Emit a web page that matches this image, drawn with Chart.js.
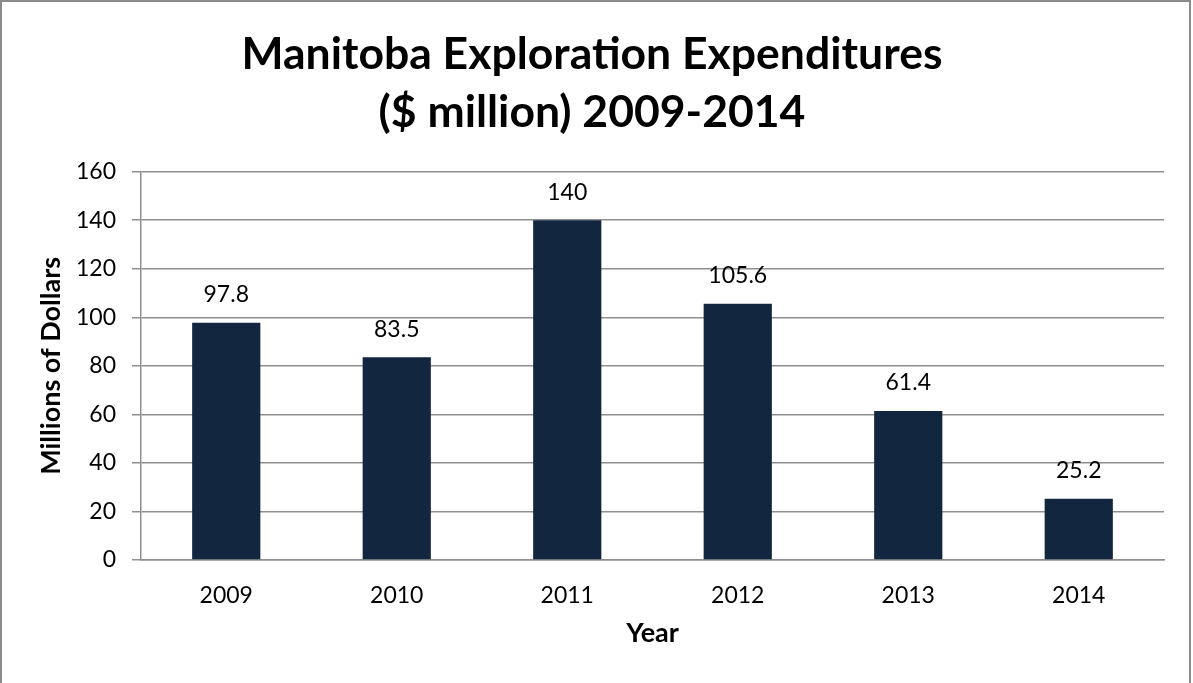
<!DOCTYPE html>
<html>
<head>
<meta charset="utf-8">
<script src="https://cdn.jsdelivr.net/npm/chart.js@4.4.1/dist/chart.umd.min.js"></script>
<style>
  html, body { margin: 0; padding: 0; background: #ffffff; }
  #wrap { position: absolute; left: 0; top: 0; width: 1193px; height: 683px; }
</style>
</head>
<body>
<div id="wrap"><canvas id="c" width="1193" height="683"></canvas></div>
<script>
const titleLines = ['Manitoba Exploration Expenditures', '($ million) 2009-2014'];
const years = ['2009', '2010', '2011', '2012', '2013', '2014'];
const expenditures = [97.8, 83.5, 140, 105.6, 61.4, 25.2];
const yTitle = 'Millions of Dollars';
const xTitle = 'Year';

const FONT = 'Lato, "Open Sans", sans-serif';
const GRID = '#8f8f8f';

const frame = {
  id: 'frame',
  beforeDraw(chart) {
    const ctx = chart.ctx;
    ctx.save();
    ctx.fillStyle = '#ffffff';
    ctx.fillRect(0, 0, chart.width, chart.height);
    ctx.strokeStyle = '#8a8a8a';
    ctx.lineWidth = 2;
    ctx.strokeRect(1, 1, 1189, 720);
    ctx.restore();
  }
};

const valueLabels = {
  id: 'valueLabels',
  afterDatasetsDraw(chart) {
    const ctx = chart.ctx;
    const meta = chart.getDatasetMeta(0);
    ctx.save();
    ctx.font = '23px ' + FONT;
    ctx.fillStyle = '#000000';
    ctx.textAlign = 'center';
    ctx.textBaseline = 'middle';
    meta.data.forEach((bar, i) => {
      const v = chart.data.datasets[0].data[i];
      ctx.fillText(String(v), bar.x, bar.y - 28);
    });
    ctx.restore();
  }
};

new Chart(document.getElementById('c'), {
  type: 'bar',
  data: {
    labels: years,
    datasets: [{
      data: expenditures,
      backgroundColor: '#13263f',
      borderWidth: 0,
      barPercentage: 0.4,
      categoryPercentage: 1.0
    }]
  },
  options: {
    responsive: false,
    animation: false,
    devicePixelRatio: 1,
    layout: { padding: { left: 20, right: 29, top: 5, bottom: 23 } },
    plugins: {
      legend: { display: false },
      tooltip: { enabled: false },
      title: {
        display: true,
        text: titleLines,
        color: '#000000',
        font: { family: FONT, size: 44.5, weight: 'bold', lineHeight: 1.3 },
        padding: { top: 21, bottom: 30 }
      }
    },
    scales: {
      x: {
        grid: { display: false, drawTicks: false },
        border: { display: true, color: GRID, width: 1.5 },
        ticks: { color: '#000000', font: { family: FONT, size: 23 }, padding: 22 },
        title: { display: true, text: xTitle, color: '#000000', font: { family: FONT, size: 27, weight: 'bold' }, padding: { top: 0, bottom: 11 } },
        afterFit(s) { s.height = 100; }
      },
      y: {
        min: 0, max: 160,
        ticks: { stepSize: 20, color: '#000000', font: { family: FONT, size: 23 }, padding: 16 },
        grid: { color: GRID, lineWidth: 1.5, tickLength: 9, drawTicks: true },
        border: { display: true, color: GRID, width: 1.5 },
        title: { display: true, text: yTitle, color: '#000000', font: { family: FONT, size: 27, weight: 'bold' }, padding: { top: 15, bottom: 0 } },
        afterFit(s) { s.width = 121; }
      }
    }
  },
  plugins: [frame, valueLabels]
});
</script>
</body>
</html>
